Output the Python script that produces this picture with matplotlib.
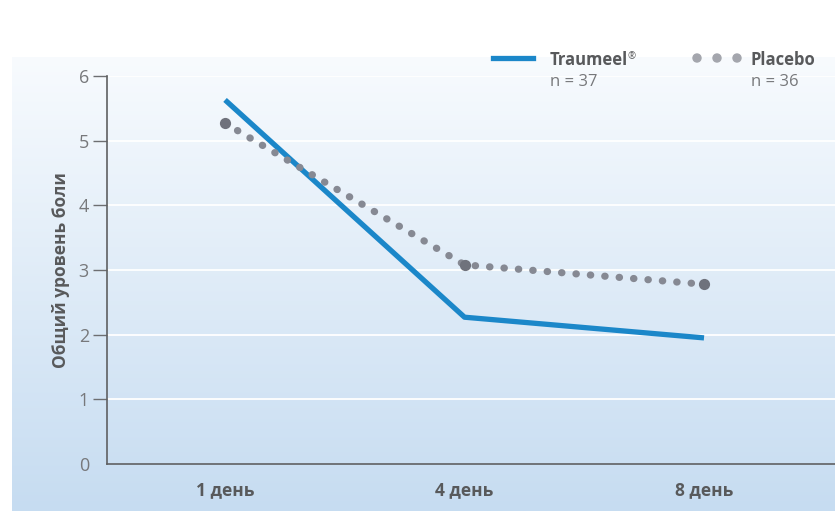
import numpy as np
import matplotlib.pyplot as plt
from matplotlib.colors import LinearSegmentedColormap
from matplotlib.patches import Ellipse

plt.rcParams['font.family'] = ['Open Sans', 'DejaVu Sans']

days = ['1 день', '4 день', '8 день']
traumeel = [5.63, 2.27, 1.95]
placebo = [5.27, 3.08, 2.78]
y_ticks = [0, 1, 2, 3, 4, 5, 6]

W, H = 835, 511
fig = plt.figure(figsize=(W / 100, H / 100), dpi=100)

# gradient panel behind the chart
bg = fig.add_axes([12 / W, 0, 1 - 12 / W, 1 - 57 / H], zorder=0)
grad = np.linspace(0, 1, 256).reshape(-1, 1)
cmap = LinearSegmentedColormap.from_list('panel', ['#f8fbfe', '#c6dcf1'])
bg.imshow(grad, aspect='auto', cmap=cmap, extent=[0, 1, 0, 1], origin='upper')
bg.axis('off')

ax = fig.add_axes([107 / W, 1 - 464 / H, 1 - 107 / W, (464 - 76) / H], zorder=1)
ax.patch.set_alpha(0)
x = np.arange(len(days))

for t in y_ticks[1:]:
    ax.axhline(t, color='white', lw=1.3, zorder=1)

ax.plot(x, traumeel, color='#1b87c9', lw=3.8, solid_capstyle='butt', zorder=3)
ax.plot(x, placebo, color='#868993', lw=5.2, linestyle=(0, (0.05, 1.95)),
        dash_capstyle='round', zorder=4)
ax.scatter(x, placebo, s=65, color='#6f727c', zorder=5, linewidths=0)

ax.set_xlim(-0.493, 2.547)
ax.set_ylim(0, 6)
ax.set_yticks(y_ticks)
ax.set_yticklabels([str(t) for t in y_ticks], fontsize=13, color='#77787b')
ax.set_xticks(x)
ax.set_xticklabels(days, fontsize=12.5, fontweight='bold', color='#58595b')
ax.tick_params(axis='y', length=10, width=1, color='#6d6e71', pad=3)
ax.tick_params(axis='x', length=0, pad=12)
ax.yaxis.get_major_ticks()[0].tick1line.set_visible(False)
for s in ['top', 'right']:
    ax.spines[s].set_visible(False)
for s in ['left', 'bottom']:
    ax.spines[s].set_color('#5f6062')
    ax.spines[s].set_linewidth(1.2)
ax.set_ylabel('Общий уровень боли', fontsize=12.5, fontweight='bold',
              color='#58595b', labelpad=6)

# legend drawn by hand
fig.add_artist(plt.Line2D([493 / W, 533 / W], [1 - 58 / H] * 2,
                          color='#1b87c9', lw=3.8, transform=fig.transFigure))
for px in [697, 717, 737]:
    fig.add_artist(Ellipse((px / W, 1 - 58 / H), 8 / W, 8 / H,
                           color='#a4a6ad', transform=fig.transFigure))
fig.text(550 / W, 1 - 60 / H, 'Traumeel', fontsize=12, fontweight='bold',
         color='#58595b', va='center')
fig.text(628 / W, 1 - 57 / H, '®', fontsize=7, color='#58595b', va='center')
fig.text(550 / W, 1 - 82 / H, 'n = 37', fontsize=12, color='#77787b', va='center')
fig.text(751 / W, 1 - 60 / H, 'Placebo', fontsize=12, fontweight='bold',
         color='#58595b', va='center')
fig.text(751 / W, 1 - 82 / H, 'n = 36', fontsize=12, color='#77787b', va='center')

fig.savefig('out.png', dpi=100)
